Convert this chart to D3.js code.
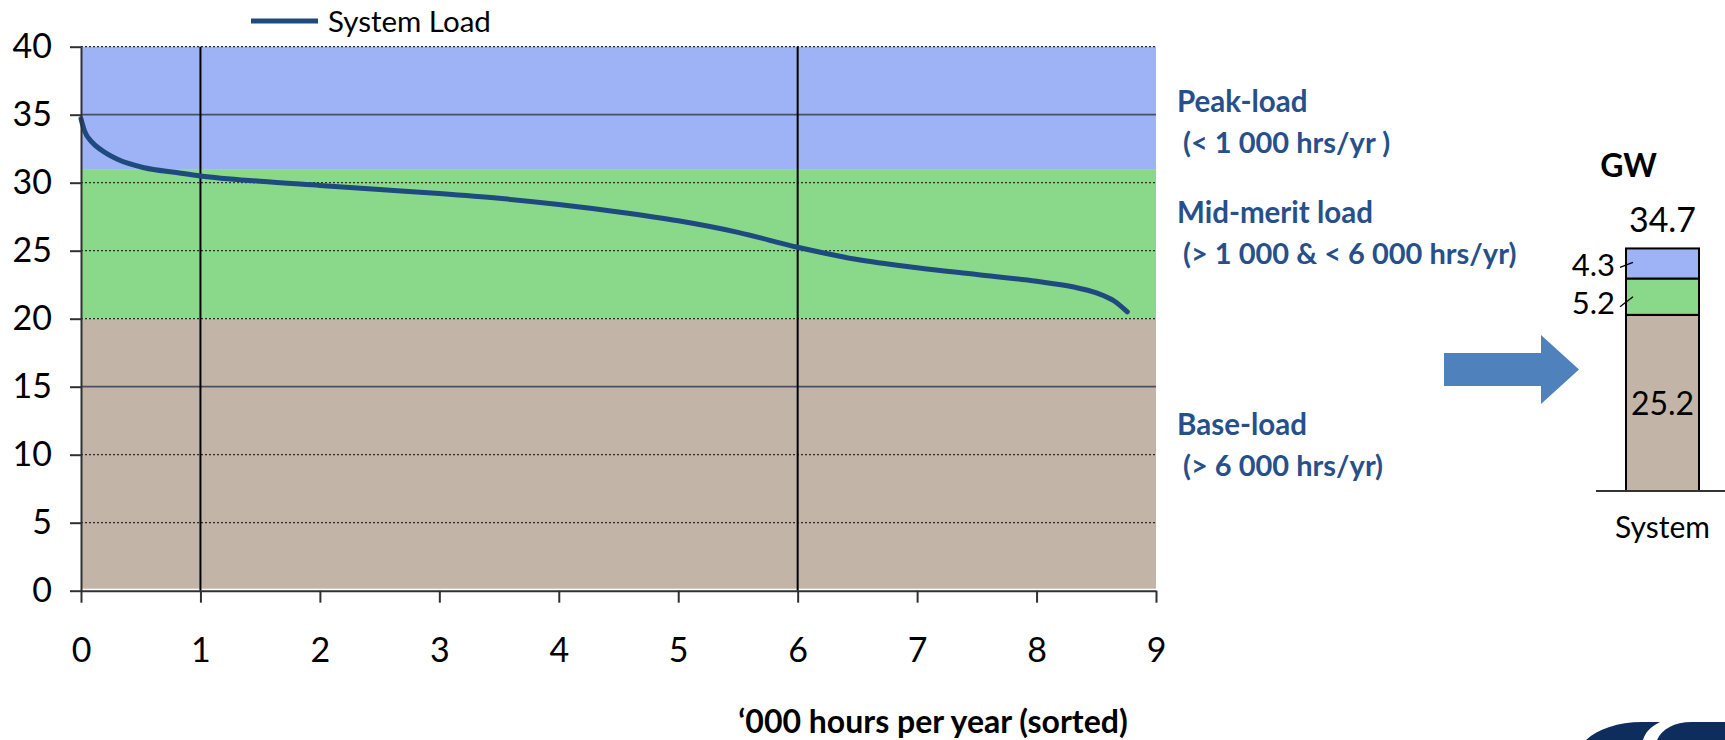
<!DOCTYPE html>
<html>
<head>
<meta charset="utf-8">
<script src="https://cdn.jsdelivr.net/npm/d3@7"></script>
<style>
  html, body { margin: 0; padding: 0; background: #ffffff; }
  svg { display: block; font-family: Lato, "Open Sans", sans-serif; }
</style>
</head>
<body>
<svg id="chart" width="1725" height="740"></svg>
<script>
// ---------------- data ----------------
// load duration curve: '000 hours per year (sorted) vs system load (GW)
const hours = [0, 0.03, 0.09, 0.17, 0.31, 0.53, 0.8, 1.0, 1.5, 2.0, 2.5, 3.0, 3.5,
               4.0, 4.5, 5.0, 5.5, 6.0, 6.5, 7.0, 7.5, 8.0, 8.3, 8.5, 8.65, 8.76];
const load  = [34.7, 33.8, 33.0, 32.4, 31.7, 31.1, 30.75, 30.5, 30.1, 29.8, 29.5, 29.2, 28.85,
               28.4, 27.85, 27.2, 26.35, 25.25, 24.35, 23.75, 23.25, 22.75, 22.35, 21.9, 21.3, 20.5];
const seriesName = "System Load";

// background load bands (GW)
const bandNames  = ["Base-load", "Mid-merit load", "Peak-load"];
const bandLower  = [0, 20, 31];
const bandUpper  = [20, 31, 40];

// axis ticks
const xTicks = [0, 1, 2, 3, 4, 5, 6, 7, 8, 9];
const yTicks = [0, 5, 10, 15, 20, 25, 30, 35, 40];
const solidGrid = [15, 35];
const dottedGrid = [5, 10, 20, 25, 30, 40];
const verticalLines = [1, 6];

// annotations
const annTitles = ["Peak-load", "Mid-merit load", "Base-load"];
const annSubs   = ["(< 1 000 hrs/yr )", "(> 1 000 & < 6 000 hrs/yr)", "(> 6 000 hrs/yr)"];

// stacked summary bar
const barCategory = ["System"];
const barSegments = ["base", "mid", "peak"];
const barValues   = [25.2, 5.2, 4.3];
const barTotal    = 34.7;

const xTitle = "\u2018000 hours per year (sorted)";

// ---------------- styling ----------------
const colBand = ["#c2b5a8", "#8ad98b", "#9eb3f5"];
const colLine = "#1f4a80";
const colAnn  = "#27508a";

const svg = d3.select("#chart");

const x = d3.scaleLinear().domain([0, 9]).range([81, 1156]);
const y = d3.scaleLinear().domain([0, 40]).range([590.7, 46.7]);

// bands
svg.append("g").selectAll("rect").data(bandNames).join("rect")
  .attr("x", x(0))
  .attr("width", x(9) - x(0))
  .attr("y", (d, i) => y(bandUpper[i]))
  .attr("height", (d, i) => y(bandLower[i]) - y(bandUpper[i]) - (i === 0 ? 2 : 0))
  .attr("fill", (d, i) => colBand[i]);

// gridlines
svg.append("g").selectAll("line").data(dottedGrid).join("line")
  .attr("x1", x(0)).attr("x2", x(9))
  .attr("y1", d => y(d)).attr("y2", d => y(d))
  .attr("stroke", "#2b2b2b").attr("stroke-width", 1.3).attr("stroke-dasharray", "2,2");
svg.append("g").selectAll("line").data(solidGrid).join("line")
  .attr("x1", x(0)).attr("x2", x(9))
  .attr("y1", d => y(d)).attr("y2", d => y(d))
  .attr("stroke", "#4a5064").attr("stroke-width", 1.8);
svg.append("g").selectAll("line").data(verticalLines).join("line")
  .attr("x1", d => x(d)).attr("x2", d => x(d))
  .attr("y1", y(40)).attr("y2", y(0))
  .attr("stroke", "#000").attr("stroke-width", 2);

// load curve
const pts = hours.map((h, i) => [h, load[i]]);
svg.append("path")
  .datum(pts)
  .attr("fill", "none")
  .attr("stroke", colLine)
  .attr("stroke-width", 5)
  .attr("stroke-linecap", "round")
  .attr("d", d3.line().x(d => x(d[0])).y(d => y(d[1])).curve(d3.curveMonotoneX));

// axes
const yAxis = svg.append("g").attr("transform", `translate(${x(0)},0)`)
  .call(d3.axisLeft(y).tickValues(yTicks).tickSize(11).tickPadding(18).tickSizeOuter(0));
const xAxis = svg.append("g").attr("transform", `translate(0,${y(0)})`)
  .call(d3.axisBottom(x).tickValues(xTicks).tickSize(12).tickPadding(35).tickSizeOuter(0));
[yAxis, xAxis].forEach(a => {
  a.select(".domain").attr("stroke", "#303030").attr("stroke-width", 2);
  a.selectAll(".tick line").attr("stroke", "#303030").attr("stroke-width", 2);
  a.selectAll(".tick text").attr("fill", "#000").style("font-size", "34px")
    .style("font-family", "Lato, sans-serif");
});

// x-axis title
svg.append("text")
  .attr("x", 933).attr("y", 733)
  .attr("text-anchor", "middle")
  .style("font-size", "32px").style("font-weight", "bold")
  .attr("fill", "#000")
  .text(xTitle);

// legend
svg.append("line")
  .attr("x1", 251).attr("x2", 318).attr("y1", 21).attr("y2", 21)
  .attr("stroke", colLine).attr("stroke-width", 5);
svg.append("text")
  .attr("x", 328).attr("y", 32)
  .style("font-size", "29.5px").attr("fill", "#000")
  .text(seriesName);

// annotations
const annY = [112, 223, 435];
const ann = svg.append("g");
annTitles.forEach((t, i) => {
  ann.append("text").attr("x", 1177).attr("y", annY[i])
    .style("font-size", "29.5px").style("font-weight", "bold").attr("fill", colAnn).text(t);
  ann.append("text").attr("x", 1183).attr("y", annY[i] + 41)
    .style("font-size", "29px").style("font-weight", "bold").attr("fill", colAnn).text(annSubs[i]);
});

// arrow
svg.append("path")
  .attr("d", "M1444,353 L1541,353 L1541,335 L1579,369.5 L1541,404 L1541,386 L1444,386 Z")
  .attr("fill", "#4f81bd");

// stacked summary bar
const xb = d3.scaleBand().domain(barCategory).range([1626, 1699]).padding(0);
const yb = d3.scaleLinear().domain([0, 40]).range([491, 491 - 40 * 6.99]);
const stackRow = {}; barSegments.forEach((k, i) => stackRow[k] = barValues[i]);
const stacked = d3.stack().keys(barSegments)([stackRow]);
svg.append("g").selectAll("rect").data(stacked).join("rect")
  .attr("x", xb("System"))
  .attr("width", xb.bandwidth())
  .attr("y", d => yb(d[0][1]))
  .attr("height", d => yb(d[0][0]) - yb(d[0][1]))
  .attr("fill", (d, i) => colBand[i])
  .attr("stroke", "#000").attr("stroke-width", 2);
// baseline
svg.append("line").attr("x1", 1596).attr("x2", 1725).attr("y1", yb(0)).attr("y2", yb(0))
  .attr("stroke", "#333").attr("stroke-width", 2);

const cx = xb("System") + xb.bandwidth() / 2;
svg.append("text").attr("x", cx - 34).attr("y", 177)
  .attr("text-anchor", "middle").style("font-size", "32px").style("font-weight", "bold")
  .attr("fill", "#000").text("GW");
svg.append("text").attr("x", cx).attr("y", yb(barTotal) - 16)
  .attr("text-anchor", "middle").style("font-size", "34px").attr("fill", "#000")
  .text(barTotal.toFixed(1));
// base value inside
svg.append("text").attr("x", cx).attr("y", yb(barValues[0] / 2) + 12)
  .attr("text-anchor", "middle").style("font-size", "32px").attr("fill", "#000")
  .text(barValues[0].toFixed(1));
// mid & peak values with leader lines
[1, 2].forEach(i => {
  const top = stacked[i][0][1], bot = stacked[i][0][0];
  const mid = (top + bot) / 2;
  const ty = yb(mid) + (i === 2 ? 2 : 6);
  svg.append("text").attr("x", 1615).attr("y", ty + 11)
    .attr("text-anchor", "end").style("font-size", "31px").attr("fill", "#000")
    .text(barValues[i].toFixed(1));
  svg.append("line")
    .attr("x1", 1620).attr("y1", ty + (i === 2 ? 2 : 4))
    .attr("x2", 1633).attr("y2", ty - (i === 2 ? 3 : 6))
    .attr("stroke", "#000").attr("stroke-width", 1.3);
});
svg.append("text").attr("x", cx).attr("y", 538)
  .attr("text-anchor", "middle").style("font-size", "30px").attr("fill", "#000")
  .text(barCategory[0]);

// logo fragment bottom-right
svg.append("path")
  .attr("d", "M1586,740 C1598,729 1618,722 1642,722 L1660,722 C1650,727 1645,733 1643,740 Z")
  .attr("fill", "#0f2d5c");
svg.append("path")
  .attr("d", "M1657,740 C1662,729 1674,722 1692,722 L1725,722 L1725,740 Z")
  .attr("fill", "#0f2d5c");
</script>
</body>
</html>
